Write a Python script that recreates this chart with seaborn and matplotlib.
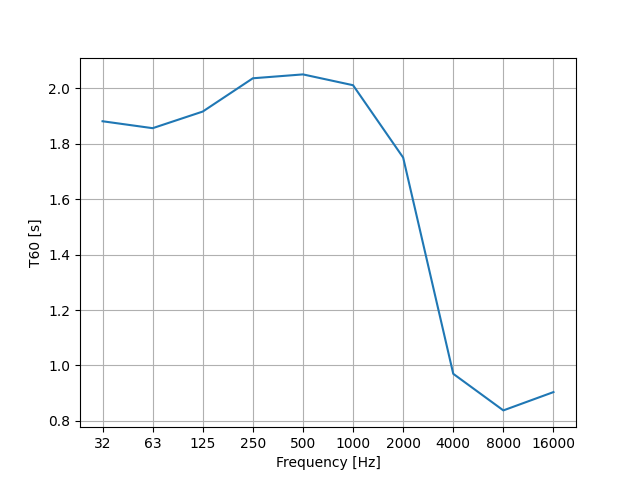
import matplotlib
matplotlib.use("Agg")
import matplotlib.pyplot as plt
import seaborn as sns
import numpy as np
import pandas as pd

# 频带与混响时间
freq_labels = ["32", "63", "125", "250", "500", "1000", "2000", "4000", "8000", "16000"]
t60_values = [1.881, 1.856, 1.916, 2.036, 2.050, 2.011, 1.750, 0.970, 0.838, 0.904]

df = pd.DataFrame({"band": np.arange(len(freq_labels)), "t60": t60_values})

fig, ax = plt.subplots(figsize=(6.4, 4.8), dpi=100)
sns.lineplot(data=df, x="band", y="t60", ax=ax, color="#1f77b4")

ax.set_xticks(df["band"])
ax.set_xticklabels(freq_labels)
ax.set_xlabel("Frequency [Hz]")
ax.set_ylabel("T60 [s]")
ax.grid(True)

fig.savefig("out.png", dpi=100)
plt.close(fig)
